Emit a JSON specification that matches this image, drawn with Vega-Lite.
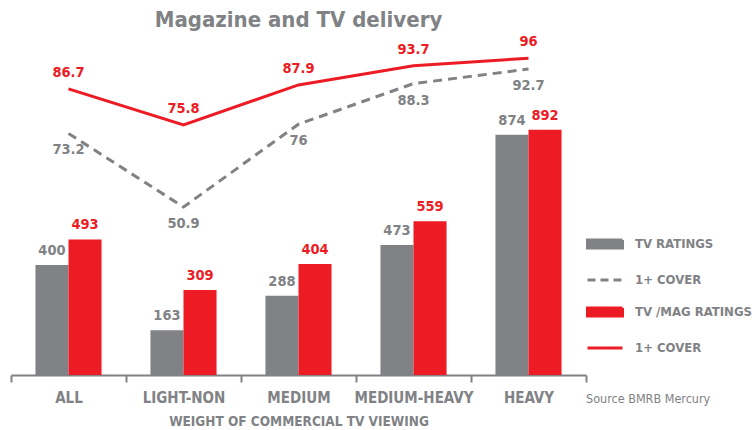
{
  "$schema": "https://vega.github.io/schema/vega-lite/v6.json",
  "width": 575,
  "height": 330,
  "autosize": {"type": "none"},
  "padding": {"left": 11, "top": 45, "right": 169, "bottom": 55},
  "background": "white",
  "title": {
    "text": "Magazine and TV delivery",
    "anchor": "middle",
    "fontSize": 22,
    "font": "DejaVu Sans Condensed, DejaVu Sans, sans-serif",
    "fontWeight": "bold",
    "color": "#808285",
    "offset": 2
  },
  "config": {
    "view": {"stroke": null},
    "font": "DejaVu Sans Condensed, DejaVu Sans, sans-serif"
  },
  "data": {
    "values": [
      {"cat": "ALL", "series": "TV RATINGS", "value": 400},
      {"cat": "ALL", "series": "TV /MAG RATINGS", "value": 493},
      {"cat": "ALL", "series": "TV 1+ COVER", "value": 73.2},
      {"cat": "ALL", "series": "TV/MAG 1+ COVER", "value": 86.7},
      {"cat": "LIGHT-NON", "series": "TV RATINGS", "value": 163},
      {"cat": "LIGHT-NON", "series": "TV /MAG RATINGS", "value": 309},
      {"cat": "LIGHT-NON", "series": "TV 1+ COVER", "value": 50.9},
      {"cat": "LIGHT-NON", "series": "TV/MAG 1+ COVER", "value": 75.8},
      {"cat": "MEDIUM", "series": "TV RATINGS", "value": 288},
      {"cat": "MEDIUM", "series": "TV /MAG RATINGS", "value": 404},
      {"cat": "MEDIUM", "series": "TV 1+ COVER", "value": 76},
      {"cat": "MEDIUM", "series": "TV/MAG 1+ COVER", "value": 87.9},
      {"cat": "MEDIUM-HEAVY", "series": "TV RATINGS", "value": 473},
      {"cat": "MEDIUM-HEAVY", "series": "TV /MAG RATINGS", "value": 559},
      {"cat": "MEDIUM-HEAVY", "series": "TV 1+ COVER", "value": 88.3},
      {"cat": "MEDIUM-HEAVY", "series": "TV/MAG 1+ COVER", "value": 93.7},
      {"cat": "HEAVY", "series": "TV RATINGS", "value": 874},
      {"cat": "HEAVY", "series": "TV /MAG RATINGS", "value": 892},
      {"cat": "HEAVY", "series": "TV 1+ COVER", "value": 92.7},
      {"cat": "HEAVY", "series": "TV/MAG 1+ COVER", "value": 96}
    ]
  },
  "encoding": {
    "x": {
      "field": "cat",
      "type": "nominal",
      "sort": ["ALL", "LIGHT-NON", "MEDIUM", "MEDIUM-HEAVY", "HEAVY"],
      "scale": {"paddingInner": 0, "paddingOuter": 0},
      "axis": {
        "title": "WEIGHT OF COMMERCIAL TV VIEWING",
        "labelAngle": 0,
        "tickBand": "extent",
        "grid": false,
        "domainColor": "#808285",
        "domainWidth": 2,
        "tickColor": "#808285",
        "tickWidth": 2,
        "tickSize": 7,
        "labelFontSize": 15,
        "labelFontWeight": "bold",
        "labelColor": "#808285",
        "labelPadding": 8,
        "titleFontSize": 13.5,
        "titleFontWeight": "bold",
        "titleColor": "#808285",
        "titlePadding": 9
      }
    }
  },
  "layer": [
    {
      "transform": [{"filter": "indexof(datum.series, 'RATINGS') >= 0"}],
      "mark": {"type": "bar"},
      "encoding": {
        "xOffset": {
          "field": "series",
          "type": "nominal",
          "scale": {"domain": ["TV RATINGS", "TV /MAG RATINGS"], "paddingInner": 0, "paddingOuter": 0.74}
        },
        "y": {"field": "value", "type": "quantitative", "scale": {"domain": [0, 1200]}, "axis": null},
        "color": {
          "field": "series",
          "type": "nominal",
          "scale": {
            "domain": ["TV RATINGS", "TV 1+ COVER", "TV /MAG RATINGS", "TV/MAG 1+ COVER"],
            "range": ["#808285", "#808285", "#ED1C24", "#ED1C24"]
          },
          "legend": {
            "orient": "none",
            "legendX": 575,
            "legendY": 180,
            "padding": 0,
            "direction": "vertical",
            "title": "Source BMRB Mercury",
            "titleOrient": "bottom",
            "titleAnchor": "start",
            "titleFontSize": 12.5,
            "titleFontWeight": "normal",
            "titleColor": "#808285",
            "titlePadding": 38,
            "labelExpr": "indexof(datum.label, '1+ COVER') >= 0 ? '1+ COVER' : datum.label",
            "labelFontSize": 13,
            "labelFontWeight": "bold",
            "labelColor": "#808285",
            "labelOffset": 11,
            "rowPadding": 6,
            "symbolSize": 1225,
            "encode": {
              "symbols": {
                "update": {
                  "shape": {"signal": "indexof(datum.value, 'RATINGS') >= 0 ? 'M-1,-0.23H1V0.23H-1Z' : 'stroke'"},
                  "fill": {"signal": "indexof(datum.value, 'RATINGS') >= 0 ? scale('color', datum.value) : 'transparent'"},
                  "stroke": {"signal": "indexof(datum.value, 'RATINGS') >= 0 ? 'transparent' : scale('color', datum.value)"},
                  "strokeDash": {"signal": "datum.value === 'TV 1+ COVER' ? [8, 5] : [1, 0]"},
                  "strokeWidth": {"value": 3},
                  "size": {"value": 1225},
                  "opacity": {"value": 1}
                }
              }
            }
          }
        }
      }
    },
    {
      "transform": [{"filter": "indexof(datum.series, 'RATINGS') >= 0"}],
      "mark": {"type": "text", "baseline": "middle", "dy": -14, "fontSize": 14.5, "fontWeight": "bold"},
      "encoding": {
        "xOffset": {"field": "series", "type": "nominal"},
        "y": {"field": "value", "type": "quantitative", "scale": {"domain": [0, 1200]}, "axis": null},
        "text": {"field": "value", "type": "quantitative"},
        "color": {"field": "series", "type": "nominal"}
      }
    },
    {
      "transform": [{"filter": "datum.series === 'TV 1+ COVER'"}],
      "mark": {"type": "line", "strokeWidth": 3, "strokeDash": [9, 6]},
      "encoding": {
        "y": {"field": "value", "type": "quantitative", "scale": {"domain": [0, 100]}, "axis": null},
        "color": {"field": "series", "type": "nominal"}
      }
    },
    {
      "transform": [{"filter": "datum.series === 'TV/MAG 1+ COVER'"}],
      "mark": {"type": "line", "strokeWidth": 3},
      "encoding": {
        "y": {"field": "value", "type": "quantitative", "scale": {"domain": [0, 100]}, "axis": null},
        "color": {"field": "series", "type": "nominal"}
      }
    },
    {
      "transform": [{"filter": "datum.series === 'TV 1+ COVER'"}],
      "mark": {"type": "text", "baseline": "middle", "dy": 17, "fontSize": 14.5, "fontWeight": "bold"},
      "encoding": {
        "y": {"field": "value", "type": "quantitative", "scale": {"domain": [0, 100]}, "axis": null},
        "text": {"field": "value", "type": "quantitative"},
        "color": {"field": "series", "type": "nominal"}
      }
    },
    {
      "transform": [{"filter": "datum.series === 'TV/MAG 1+ COVER'"}],
      "mark": {"type": "text", "baseline": "middle", "dy": -16, "fontSize": 14.5, "fontWeight": "bold"},
      "encoding": {
        "y": {"field": "value", "type": "quantitative", "scale": {"domain": [0, 100]}, "axis": null},
        "text": {"field": "value", "type": "quantitative"},
        "color": {"field": "series", "type": "nominal"}
      }
    }
  ],
  "resolve": {"scale": {"y": "independent"}}
}
